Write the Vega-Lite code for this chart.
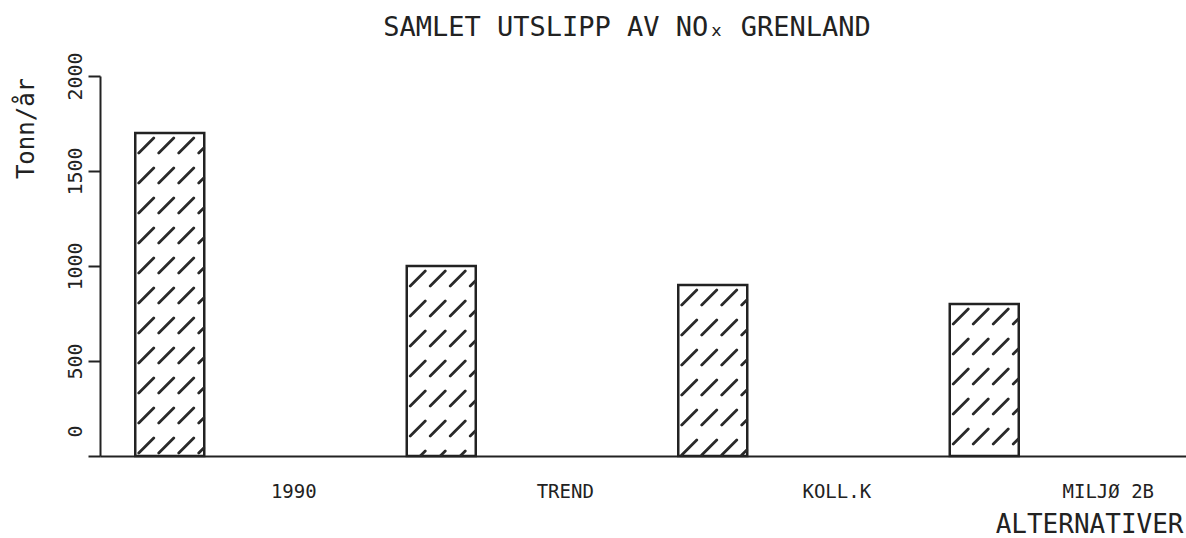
{
  "$schema": "https://vega.github.io/schema/vega-lite/v6.json",
  "width": 1086,
  "height": 380,
  "autosize": {"type": "none"},
  "padding": {"left": 100, "top": 76, "right": 0, "bottom": 82},
  "background": "white",
  "title": {
    "text": "SAMLET UTSLIPP AV NOₓ GRENLAND",
    "font": "DejaVu Sans Mono",
    "fontSize": 27,
    "fontWeight": "normal",
    "color": "#222",
    "anchor": "middle",
    "frame": "group",
    "dx": -16,
    "offset": 10
  },
  "data": {
    "values": [
      {"alternativ": "1990", "utslipp": 1700},
      {"alternativ": "TREND", "utslipp": 1000},
      {"alternativ": "KOLL.K", "utslipp": 900},
      {"alternativ": "MILJØ 2B", "utslipp": 800}
    ]
  },
  "encoding": {
    "x": {
      "field": "alternativ",
      "type": "nominal",
      "sort": null,
      "scale": {"paddingInner": 0, "paddingOuter": 0},
      "axis": {
        "title": "ALTERNATIVER",
        "labelAngle": 0,
        "ticks": false,
        "domainColor": "#222",
        "domainWidth": 2,
        "labelFont": "DejaVu Sans Mono",
        "labelFontSize": 19,
        "labelColor": "#222",
        "labelOffset": 58,
        "labelPadding": 26,
        "labelBaseline": "top",
        "titleFont": "DejaVu Sans Mono",
        "titleFontSize": 26,
        "titleFontWeight": "normal",
        "titleColor": "#222",
        "titleAlign": "right",
        "titleX": 1083,
        "titleY": 76,
        "titleBaseline": "alphabetic"
      }
    },
    "y": {
      "field": "utslipp",
      "type": "quantitative",
      "scale": {"domain": [0, 2000], "nice": false},
      "axis": {
        "title": "Tonn/år",
        "values": [0, 500, 1000, 1500, 2000],
        "format": "d",
        "grid": false,
        "domainColor": "#222",
        "domainWidth": 2,
        "tickColor": "#222",
        "tickWidth": 2,
        "tickSize": 12,
        "labelAngle": 270,
        "labelAlign": "center",
        "labelBaseline": "alphabetic",
        "labelPadding": 7,
        "labelFont": "DejaVu Sans Mono",
        "labelFontSize": 20,
        "labelColor": "#222",
        "labelOffset": {"condition": {"test": "datum.value === 0", "value": -25}, "value": 0},
        "titleFont": "DejaVu Sans Mono",
        "titleFontSize": 24,
        "titleFontWeight": "normal",
        "titleColor": "#222",
        "titleAngle": 270,
        "titleAlign": "center",
        "titleBaseline": "alphabetic",
        "titleX": -67,
        "titleY": 52
      }
    }
  },
  "layer": [
    {
      "mark": {"type": "bar", "width": 69, "xOffset": -66, "fill": "white", "stroke": "#222", "strokeWidth": 2.5}
    },
    {
      "mark": {
        "type": "point",
        "shape": "M-31,20L-16,5M-11,20L4,5M9,20L24,5M29,20L34,15M-31,50L-16,35M-11,50L4,35M9,50L24,35M29,50L34,45M-31,80L-16,65M-11,80L4,65M9,80L24,65M29,80L34,75M-31,110L-16,95M-11,110L4,95M9,110L24,95M29,110L34,105M-31,140L-16,125M-11,140L4,125M9,140L24,125M29,140L34,135M-31,170L-16,155M-11,170L4,155M9,170L24,155M29,170L34,165M-31,200L-16,185M-11,200L4,185M9,200L24,185M29,200L34,195M-31,230L-16,215M-11,230L4,215M9,230L24,215M29,230L34,225M-31,260L-16,245M-11,260L4,245M9,260L24,245M29,260L34,255M-31,290L-16,275M-11,290L4,275M9,290L24,275M29,290L34,285M-31,320L-16,305M-11,320L4,305M9,320L24,305M29,320L34,315",
        "size": 4,
        "filled": false,
        "stroke": "#2a2a2a",
        "strokeWidth": 2.8,
        "strokeCap": "round",
        "opacity": 1,
        "xOffset": -66,
        "clip": true
      }
    }
  ],
  "config": {"view": {"stroke": null}}
}
